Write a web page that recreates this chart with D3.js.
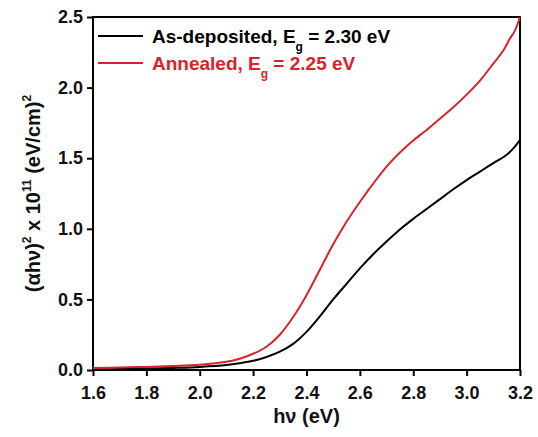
<!DOCTYPE html>
<html><head><meta charset="utf-8">
<script src="https://cdn.jsdelivr.net/npm/d3@7"></script>
<style>body{margin:0;background:#fff}svg{display:block}text{font-family:"Liberation Sans",Arial,sans-serif;font-weight:bold}</style>
</head><body><svg id="c" width="538" height="437"></svg>
<script>
const energy = [1.6,1.7,1.8,1.9,2.0,2.1,2.15,2.2,2.25,2.3,2.35,2.4,2.45,2.5,2.55,2.6,2.65,2.7,2.75,2.8,2.85,2.9,2.95,3.0,3.05,3.1,3.14,3.16,3.18,3.2];
const asDeposited = [0.005,0.007,0.01,0.015,0.022,0.035,0.048,0.065,0.092,0.13,0.185,0.27,0.38,0.50,0.61,0.72,0.82,0.91,0.995,1.07,1.14,1.21,1.28,1.345,1.405,1.465,1.51,1.54,1.58,1.63];
const annealed = [0.015,0.018,0.022,0.028,0.037,0.058,0.08,0.115,0.165,0.25,0.375,0.53,0.71,0.89,1.05,1.19,1.32,1.44,1.54,1.625,1.70,1.78,1.86,1.95,2.05,2.17,2.27,2.34,2.40,2.50];
const xTicks = [1.6,1.8,2.0,2.2,2.4,2.6,2.8,3.0,3.2];
const yTicks = [0.0,0.5,1.0,1.5,2.0,2.5];
const seriesNames = ["As-deposited, E", "Annealed, E"];
const seriesGap = ["2.30", "2.25"];
const colors = ["#000000", "#d8232a"];

const svg = d3.select("#c");
const L=93, R=520, T=17, B=370;
const x = d3.scaleLinear().domain([1.6,3.2]).range([L,R]);
const y = d3.scaleLinear().domain([0,2.5]).range([B,T]);

const xa = svg.append("g").attr("transform",`translate(0,${B})`)
  .call(d3.axisBottom(x).tickValues(xTicks).tickFormat(d3.format(".1f")).tickSize(6).tickSizeOuter(0));
const ya = svg.append("g").attr("transform",`translate(${L},0)`)
  .call(d3.axisLeft(y).tickValues(yTicks).tickFormat(d3.format(".1f")).tickSize(6).tickSizeOuter(0));
[xa,ya].forEach(a=>{
  a.select(".domain").remove();
  a.selectAll("line").attr("stroke","#000").attr("stroke-width",2);
  a.selectAll("text").attr("font-size",18).attr("fill","#111");
});
xa.selectAll("text").attr("y",13).attr("dy","0.9em");
ya.selectAll("text").attr("x",-10);

svg.append("rect").attr("x",L).attr("y",T).attr("width",R-L).attr("height",B-T)
  .attr("fill","none").attr("stroke","#000").attr("stroke-width",2);

const line = d3.line().curve(d3.curveCatmullRom.alpha(0.5));
[asDeposited, annealed].forEach((s,i)=>{
  svg.append("path").attr("d", line(energy.map((e,j)=>[x(e), y(s[j])])))
    .attr("fill","none").attr("stroke",colors[i]).attr("stroke-width",2);
});

seriesNames.forEach((n,i)=>{
  const ly = 36 + i*27;
  svg.append("line").attr("x1",98).attr("x2",143).attr("y1",ly).attr("y2",ly)
    .attr("stroke",colors[i]).attr("stroke-width",2);
  const t = svg.append("text").attr("x",152).attr("y",ly+7).attr("font-size",19).attr("fill",colors[i]);
  t.append("tspan").text(n);
  t.append("tspan").attr("font-size",12).attr("dy",8).text("g");
  t.append("tspan").attr("dy",-8).text(" = " + seriesGap[i] + " eV");
});

svg.append("text").attr("x",(L+R)/2).attr("y",423).attr("text-anchor","middle")
  .attr("font-size",20).attr("fill","#111").text("hν (eV)");
const yt = svg.append("text").attr("transform",`translate(40,${(T+B)/2}) rotate(-90)`)
  .attr("text-anchor","middle").attr("font-size",20).attr("fill","#111");
yt.append("tspan").text("(αhν)");
yt.append("tspan").attr("font-size",12).attr("dy",-9).text("2");
yt.append("tspan").attr("dy",9).text(" x 10");
yt.append("tspan").attr("font-size",12).attr("dy",-9).text("11");
yt.append("tspan").attr("dy",9).text(" (eV/cm)");
yt.append("tspan").attr("font-size",12).attr("dy",-9).text("2");
</script></body></html>
